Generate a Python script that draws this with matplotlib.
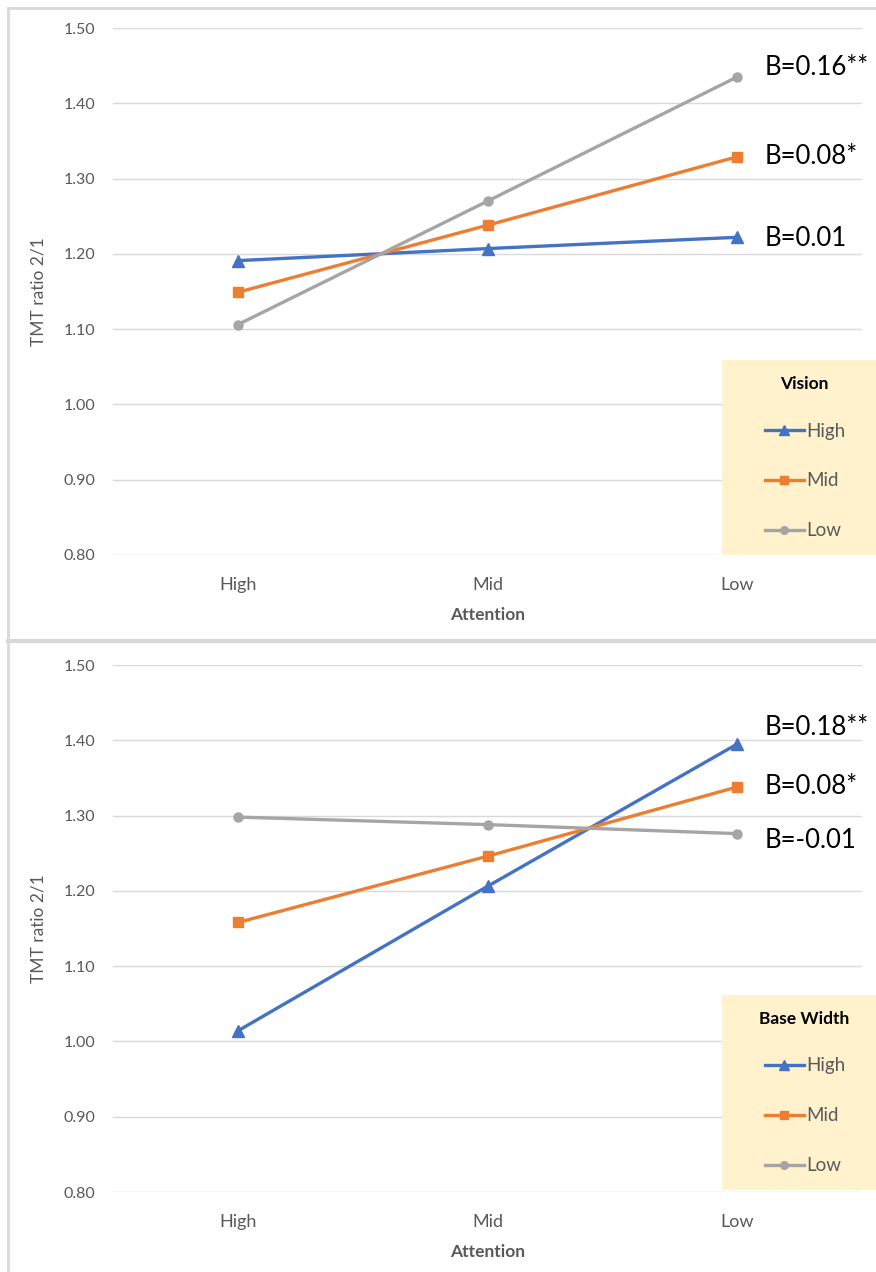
import matplotlib.pyplot as plt
from matplotlib.patches import Rectangle
from matplotlib.lines import Line2D

plt.rcParams['font.family'] = ['Lato', 'DejaVu Sans']

# categories on the x axis
attention = ['High', 'Mid', 'Low']
levels = ['High', 'Mid', 'Low']

# top panel: Vision
vision_high = [1.191, 1.207, 1.222]
vision_mid = [1.149, 1.238, 1.329]
vision_low = [1.106, 1.270, 1.435]
vision_labels = ['B=0.01', 'B=0.08*', 'B=0.16**']
vision_label_y = [1.221, 1.329, 1.447]

# bottom panel: Base Width
base_high = [1.014, 1.206, 1.395]
base_mid = [1.158, 1.246, 1.338]
base_low = [1.298, 1.288, 1.276]
base_labels = ['B=0.18**', 'B=0.08*', 'B=-0.01']
base_label_y = [1.417, 1.338, 1.267]

colors = ['#4472C4', '#ED7D31', '#A5A5A5']
markers = ['^', 's', 'o']
msizes = [8, 6.5, 6.5]
W, H = 876, 1272

fig = plt.figure(figsize=(W / 100, H / 100), dpi=100)


def panel(top_px, series, labels, label_y, title, legend_top):
    bottom_px = top_px + 527
    ax = fig.add_axes([113 / W, 1 - bottom_px / H, 749 / W, 527 / H])
    x = range(len(attention))
    for vals, c, m, ms, lev in zip(series, colors, markers, msizes, levels):
        ax.plot(x, vals, color=c, marker=m, markersize=ms, linewidth=2.4, label=lev,
                zorder=3)
    for txt, yy in zip(labels, label_y):
        ax.text(2.11, yy, txt, fontsize=18.5, va='center', ha='left', color='black',
                clip_on=False)
    ax.set_ylim(0.80, 1.50)
    ax.set_xlim(-0.5, 2.5)
    ax.set_yticks([0.8 + 0.1 * i for i in range(8)])
    ax.set_yticklabels(['%.2f' % (0.8 + 0.1 * i) for i in range(8)])
    ax.set_xticks(list(x))
    ax.set_xticklabels(attention)
    ax.tick_params(axis='y', length=0, pad=13, labelsize=11.5, labelcolor='#595959')
    ax.tick_params(axis='x', length=0, pad=16, labelsize=13, labelcolor='#595959')
    ax.grid(axis='y', color='#D9D9D9', linewidth=1)
    ax.set_axisbelow(True)
    for s in ax.spines.values():
        s.set_visible(False)
    ax.set_ylabel('TMT ratio 2/1', fontsize=12.5, color='#595959', labelpad=12)
    ax.set_xlabel('Attention', fontsize=12.5, color='#595959', fontweight='bold',
                  labelpad=10)

    # legend box
    fig.add_artist(Rectangle((722 / W, 1 - (legend_top + 195) / H), 154 / W, 195 / H,
                             transform=fig.transFigure, facecolor='#FFF2CC',
                             edgecolor='none', zorder=2))
    fig.text(804 / W, 1 - (legend_top + 24) / H, title, ha='center', va='center',
             fontsize=12.5, fontweight='bold', color='black', zorder=4)
    handles = [Line2D([], [], color=c, marker=m, markersize=ms - 1, linewidth=2.4)
               for c, m, ms in zip(colors, markers, msizes)]
    leg = fig.legend(handles, levels, loc='upper left', frameon=False,
                     bbox_to_anchor=(757 / W, 1 - (legend_top + 55) / H),
                     fontsize=13.5, handlelength=2.1, handletextpad=0.15,
                     labelspacing=1.75, borderaxespad=0)
    for t in leg.get_texts():
        t.set_color('#595959')
    leg.set_zorder(3)
    return ax


panel(28, [vision_high, vision_mid, vision_low], vision_labels, vision_label_y,
      'Vision', 360)
panel(665, [base_high, base_mid, base_low], base_labels, base_label_y,
      'Base Width', 995)

# panel frames
frame = '#D9D9D9'
fig.add_artist(Line2D([8 / W, 8 / W], [0, 1 - 8 / H], transform=fig.transFigure,
                      color=frame, linewidth=2))
fig.add_artist(Line2D([8 / W, 1], [1 - 8 / H, 1 - 8 / H], transform=fig.transFigure,
                      color=frame, linewidth=2))
fig.add_artist(Line2D([8 / W, 1], [1 - 641 / H, 1 - 641 / H], transform=fig.transFigure,
                      color=frame, linewidth=3))

fig.savefig('out.png', dpi=100)
